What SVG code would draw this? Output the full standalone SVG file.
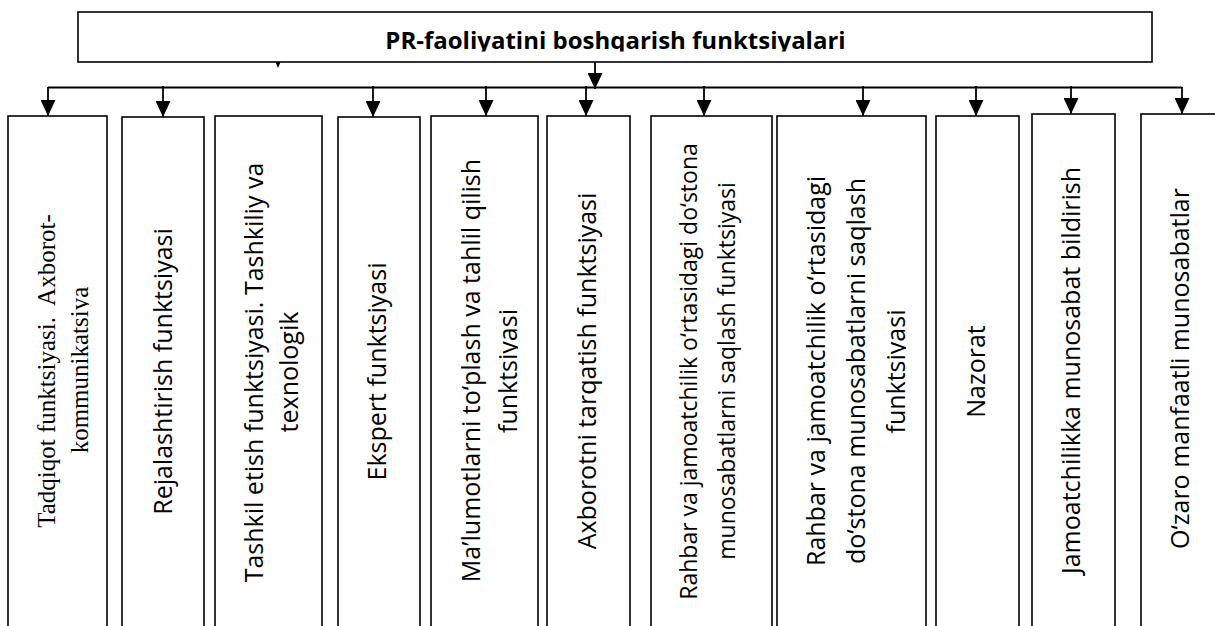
<svg xmlns="http://www.w3.org/2000/svg" width="1215" height="626" viewBox="0 0 1215 626">
<style>
.box{fill:#fff;stroke:#000;stroke-width:1.6}
.t{font-family:"Open Sans","DejaVu Sans",sans-serif;font-size:25px;fill:#000;text-anchor:middle}
.s{font-family:"Liberation Serif","Times New Roman",serif;font-size:25px;fill:#000;text-anchor:middle;white-space:pre}
.title{font-family:"Open Sans","DejaVu Sans",sans-serif;font-size:24px;font-weight:bold;fill:#000;text-anchor:middle}
.ln{fill:none;stroke:#000;stroke-width:1.8}
</style>
<defs>
<marker id="ah" markerUnits="userSpaceOnUse" markerWidth="16" markerHeight="15" viewBox="0 0 16 15" refX="16" refY="7.5" orient="auto">
<path d="M0,0 L16,7.5 L0,15 z" fill="#000"/>
</marker>
<clipPath id="cTitle"><rect x="0" y="0" width="1215" height="51.5"/></clipPath>
<clipPath id="c1"><rect x="0" y="0" width="89" height="626"/></clipPath>
<clipPath id="c5"><rect x="0" y="0" width="518" height="626"/></clipPath>
<clipPath id="c8"><rect x="0" y="0" width="906" height="626"/></clipPath>
</defs>
<rect width="1215" height="626" fill="#fff"/>

<g id="title-node">
<rect class="box" x="78" y="12" width="1074" height="50"/>
<g clip-path="url(#cTitle)"><text class="title" x="615.5" y="49">PR-faoliyatini boshqarish funktsiyalari</text></g>
<polygon points="275.5,62 280.5,62 278,68" fill="#000"/>
</g>

<g id="connectors">
<path class="ln" d="M595,62 V89" marker-end="url(#ah)"/>
<path class="ln" d="M48,87.5 H1182"/>
<path class="ln" d="M48,87 V116" marker-end="url(#ah)"/>
<path class="ln" d="M163,86 V117" marker-end="url(#ah)"/>
<path class="ln" d="M373,86 V117" marker-end="url(#ah)"/>
<path class="ln" d="M486,86 V116" marker-end="url(#ah)"/>
<path class="ln" d="M586,86 V116" marker-end="url(#ah)"/>
<path class="ln" d="M704,86 V116" marker-end="url(#ah)"/>
<path class="ln" d="M863,86 V116" marker-end="url(#ah)"/>
<path class="ln" d="M976,86 V116" marker-end="url(#ah)"/>
<path class="ln" d="M1071,86 V114" marker-end="url(#ah)"/>
<path class="ln" d="M1182,87 V114" marker-end="url(#ah)"/>
</g>

<g id="node-1">
<rect class="box" x="8" y="116" width="99" height="530"/>
<text class="s" transform="translate(55,371) rotate(-90)">Tadqiqot funktsiyasi.  Axborot-</text>
<g clip-path="url(#c1)"><text class="s" transform="translate(88,370) rotate(-90)">kommunikatsiya</text></g>
</g>
<g id="node-2">
<rect class="box" x="122" y="117" width="82" height="530"/>
<text class="t" transform="translate(172,371.5) rotate(-90)">Rejalashtirish funktsiyasi</text>
</g>
<g id="node-3">
<rect class="box" x="215" y="116" width="107" height="530"/>
<text class="t" transform="translate(263,372.5) rotate(-90)">Tashkil etish funktsiyasi. Tashkiliy va</text>
<text class="t" transform="translate(298,372) rotate(-90)">texnologik</text>
</g>
<g id="node-4">
<rect class="box" x="338" y="117" width="82" height="530"/>
<text class="t" transform="translate(386,371.5) rotate(-90)">Ekspert funktsiyasi</text>
</g>
<g id="node-5">
<rect class="box" x="431" y="116" width="107" height="530"/>
<text class="t" transform="translate(480,370.5) rotate(-90)">Ma’lumotlarni to‘plash va tahlil qilish</text>
<g clip-path="url(#c5)"><text class="t" transform="translate(517,371) rotate(-90)">funktsiyasi</text></g>
</g>
<g id="node-6">
<rect class="box" x="547" y="116" width="83" height="530"/>
<text class="t" transform="translate(596,371) rotate(-90)">Axborotni tarqatish funktsiyasi</text>
</g>
<g id="node-7">
<rect class="box" x="651" y="116" width="121" height="530"/>
<text class="t" style="font-size:23px" transform="translate(697,371.5) rotate(-90)">Rahbar va jamoatchilik o‘rtasidagi do‘stona</text>
<text class="t" style="font-size:23px" transform="translate(735,371) rotate(-90)">munosabatlarni saqlash funktsiyasi</text>
</g>
<g id="node-8">
<rect class="box" x="777" y="116" width="149" height="530"/>
<text class="t" transform="translate(825,371) rotate(-90)">Rahbar va jamoatchilik o‘rtasidagi</text>
<text class="t" transform="translate(865,371) rotate(-90)">do‘stona munosabatlarni saqlash</text>
<g clip-path="url(#c8)"><text class="t" transform="translate(905,371.5) rotate(-90)">funktsiyasi</text></g>
</g>
<g id="node-9">
<rect class="box" x="936" y="116" width="83" height="530"/>
<text class="t" transform="translate(985,371.5) rotate(-90)">Nazorat</text>
</g>
<g id="node-10">
<rect class="box" x="1032" y="114" width="83" height="530"/>
<text class="t" transform="translate(1080,370.5) rotate(-90)">Jamoatchilikka munosabat bildirish</text>
</g>
<g id="node-11">
<rect class="box" x="1141" y="114" width="100" height="530"/>
<text class="t" transform="translate(1189,368.5) rotate(-90)">O‘zaro manfaatli munosabatlar</text>
</g>
</svg>
